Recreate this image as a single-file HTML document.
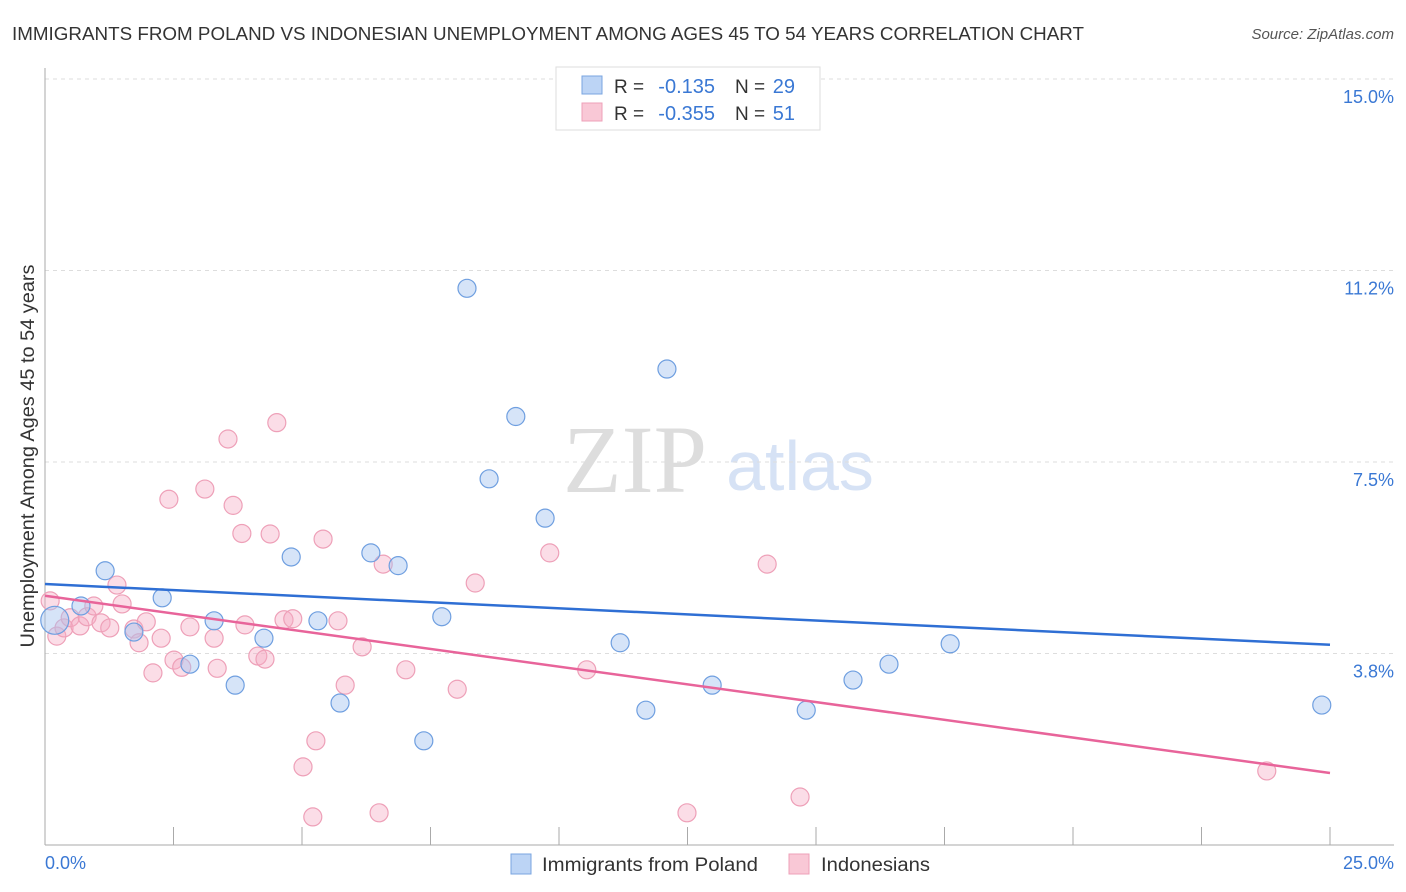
<!DOCTYPE html>
<html><head><meta charset="utf-8"><style>
body{margin:0;background:#fff;font-family:"Liberation Sans",sans-serif;}
svg{display:block}
</style></head><body>
<svg id="chart" width="1406" height="892">
<text x="12" y="40" font-size="18" fill="#333" textLength="1072" lengthAdjust="spacingAndGlyphs">IMMIGRANTS FROM POLAND VS INDONESIAN UNEMPLOYMENT AMONG AGES 45 TO 54 YEARS CORRELATION CHART</text>
<text x="1394" y="39" font-size="15" fill="#555" text-anchor="end" font-style="italic">Source: ZipAtlas.com</text>
<text x="635" y="492" font-size="96" fill="#ddd" font-family="Liberation Serif" text-anchor="middle">ZIP</text>
<text x="800" y="490" font-size="70" fill="#d6e2f5" text-anchor="middle">atlas</text>
<g id="grid"></g><g id="pts"></g><g id="lines"></g>
<text transform="translate(34,456) rotate(-90)" font-size="19" fill="#333" text-anchor="middle" textLength="383" lengthAdjust="spacingAndGlyphs">Unemployment Among Ages 45 to 54 years</text>
<text x="45" y="869" font-size="18" fill="#3a78d4">0.0%</text>
<text x="1394" y="869" font-size="18" fill="#3a78d4" text-anchor="end">25.0%</text>
<g>
<rect x="556" y="67" width="264" height="63" fill="#fff" stroke="#ddd"/>
<rect x="582" y="76" width="20" height="18" fill="#bcd4f5" stroke="#7aa5e0"/>
<rect x="582" y="103" width="20" height="18" fill="#f9c8d6" stroke="#eea0b8"/>
<text x="614" y="93" font-size="19" fill="#333">R =</text>
<text x="715" y="93" font-size="20" fill="#3a78d4" text-anchor="end">-0.135</text>
<text x="735" y="93" font-size="19" fill="#333">N =</text>
<text x="795" y="93" font-size="20" fill="#3a78d4" text-anchor="end">29</text>
<text x="614" y="120" font-size="19" fill="#333">R =</text>
<text x="715" y="120" font-size="20" fill="#3a78d4" text-anchor="end">-0.355</text>
<text x="735" y="120" font-size="19" fill="#333">N =</text>
<text x="795" y="120" font-size="20" fill="#3a78d4" text-anchor="end">51</text>
</g>
<g>
<rect x="511" y="854" width="20" height="20" fill="#bcd4f5" stroke="#7aa5e0"/>
<text x="542" y="871" font-size="19" fill="#333" textLength="216" lengthAdjust="spacingAndGlyphs">Immigrants from Poland</text>
<rect x="789" y="854" width="20" height="20" fill="#f9c8d6" stroke="#eea0b8"/>
<text x="821" y="871" font-size="19" fill="#333" textLength="109" lengthAdjust="spacingAndGlyphs">Indonesians</text>
</g>
</svg>
<script>
const yTicks=[3.75,7.5,11.25,15];
const yTickLabels=["3.8%","7.5%","11.2%","15.0%"];
const blueX=[0.19,0.70,1.17,1.73,2.28,2.82,3.29,3.70,4.26,4.79,5.31,5.74,6.34,6.87,7.37,7.72,8.21,8.64,9.16,9.73,11.19,11.69,12.10,12.98,14.81,15.72,16.42,17.61,24.84];
const blueY=[4.4,4.68,5.37,4.17,4.84,3.54,4.39,3.13,4.05,5.64,4.39,2.78,5.72,5.47,2.04,4.47,10.9,7.17,8.39,6.4,3.96,2.64,9.32,3.13,2.64,3.23,3.54,3.94,2.74];
const pinkX=[0.10,0.23,0.37,0.49,0.68,0.82,0.95,1.09,1.26,1.40,1.50,1.73,1.83,1.97,2.10,2.26,2.41,2.51,2.66,2.82,3.11,3.29,3.35,3.56,3.66,3.83,3.89,4.14,4.28,4.38,4.51,4.65,4.82,5.02,5.21,5.27,5.41,5.70,5.84,6.17,6.50,6.58,7.02,8.02,8.37,9.82,10.54,12.49,14.05,14.69,23.77];
const pinkY=[4.78,4.09,4.25,4.45,4.29,4.47,4.68,4.35,4.25,5.09,4.72,4.23,3.96,4.37,3.37,4.05,6.77,3.62,3.48,4.27,6.97,4.05,3.46,7.95,6.65,6.1,4.31,3.7,3.64,6.09,8.27,4.41,4.43,1.53,0.55,2.04,5.99,4.39,3.13,3.88,0.63,5.5,3.43,3.05,5.13,5.72,3.43,0.63,5.5,0.94,1.45];
const blueTrend=[5.11,3.92];
const pinkTrend=[4.88,1.41];
const xs=v=>45+v*51.4, ys=v=>845-v*51.07;
const NS="http://www.w3.org/2000/svg";
function mk(t,a,p){const e=document.createElementNS(NS,t);for(const k in a)e.setAttribute(k,a[k]);p.appendChild(e);return e;}
const g=document.getElementById('grid');
yTicks.forEach((t,i)=>{const l=mk('line',{x1:45,x2:1394,y1:ys(t),y2:ys(t),stroke:'#ddd','stroke-dasharray':'4,4'},g);


const tx=mk('text',{x:1394,y:ys(t)+24,'font-size':18,fill:'#3a78d4','text-anchor':'end'},g);tx.textContent=yTickLabels[i];

});
const ax=mk('line',{x1:45,x2:45,y1:68,y2:845,stroke:'#aaa'},g);


const bx=mk('line',{x1:45,x2:1394,y1:845,y2:845,stroke:'#aaa'},g);


for(let i=0;i<=10;i++){const t=mk('line',{x1:xs(i*2.5),x2:xs(i*2.5),y1:827,y2:845,stroke:'#aaa'},g);

}
const p=document.getElementById('pts');
pinkX.forEach((x,i)=>{const c=mk('circle',{cx:xs(x),cy:ys(pinkY[i]),r:9,fill:'rgba(245,170,195,0.4)',stroke:'#eea0b8','stroke-width':1.2},p);

});
blueX.forEach((x,i)=>{const c=mk('circle',{cx:xs(x),cy:ys(blueY[i]),r:i==0?14:9,fill:'rgba(165,195,240,0.45)',stroke:'#6f9fe0','stroke-width':1.2},p);

});
const L=document.getElementById('lines');
const b=mk('line',{x1:xs(0),y1:ys(blueTrend[0]),x2:xs(25),y2:ys(blueTrend[1]),stroke:'#2f6fd4','stroke-width':2.5},L);


const k=mk('line',{x1:xs(0),y1:ys(pinkTrend[0]),x2:xs(25),y2:ys(pinkTrend[1]),stroke:'#e8649a','stroke-width':2.5},L);


</script>
</body></html>
